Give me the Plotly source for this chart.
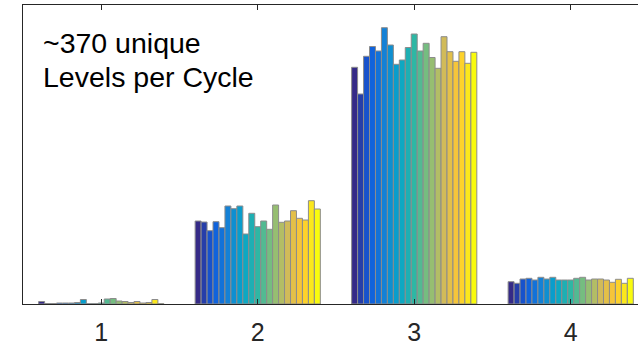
import plotly.graph_objects as go

# Categories (cycle number) and the 21 per-level series heights for each category
categories = [1, 2, 3, 4]
tick_labels = ["1", "2", "3", "4"]

cycle_1 = [2.5, 0.5, 0.5, 1.0, 1.0, 1.0, 1.5, 4.5, 0.3, 0.3, 1.0, 5.0, 5.5, 3.0, 2.5, 1.5, 2.5, 1.0, 1.5, 4.5, 0.3]
cycle_2 = [83, 82, 73.3, 82.3, 76.3, 98, 95.3, 98, 70, 90.7, 77.3, 83, 74.7, 99, 81.7, 83, 93.3, 85.7, 84, 103.3, 95]
cycle_3 = [236.7, 210, 247.7, 257.5, 253, 276.3, 259, 239.7, 244, 256.5, 270, 253, 260.7, 246.5, 235.7, 267.3, 252.3, 242.7, 252.3, 240.7, 251.7]
cycle_4 = [22.3, 20.7, 25, 25.7, 24, 26.7, 25, 26.7, 24, 24, 24, 25.7, 26.7, 24, 25, 25, 24, 21.7, 24.7, 20.7, 25.7]

annotation_lines = ["~370 unique", "Levels per Cycle"]

# parula-like colormap anchors
parula = ['#352a87', '#0f5cdd', '#1481d6', '#06a4ca', '#2eb7a4',
          '#87bf77', '#d1bb59', '#fec832', '#f9fb0e']


def hex2rgb(h):
    h = h.lstrip('#')
    return [int(h[i:i + 2], 16) for i in (0, 2, 4)]


def cmap(t):
    n = len(parula) - 1
    p = t * n
    i = min(int(p), n - 1)
    f = p - i
    a, b = hex2rgb(parula[i]), hex2rgb(parula[i + 1])
    c = [round(a[j] + (b[j] - a[j]) * f) for j in range(3)]
    return f"rgb({c[0]},{c[1]},{c[2]})"


n_series = len(cycle_1)
fig = go.Figure()
for k in range(n_series):
    fig.add_trace(go.Bar(
        x=categories,
        y=[cycle_1[k], cycle_2[k], cycle_3[k], cycle_4[k]],
        marker=dict(color=cmap(k / (n_series - 1)),
                    line=dict(color="#8c8c8c", width=1)),
        showlegend=False,
    ))

axis_color = "#262626"
fig.update_layout(
    width=638, height=346,
    margin=dict(l=23, r=0, t=5, b=42, autoexpand=False),
    paper_bgcolor="white", plot_bgcolor="white",
    barmode="group", bargap=0.2, bargroupgap=0,
    font=dict(family="Liberation Sans", color=axis_color),
    xaxis=dict(
        range=[0.5, 4.43], tickmode="array", tickvals=categories, ticktext=tick_labels,
        showline=True, linecolor=axis_color, linewidth=1, mirror="ticks",
        ticks="inside", ticklen=5, tickcolor=axis_color, showgrid=False, zeroline=False,
        tickfont=dict(size=25, color=axis_color, family="Liberation Sans"),
        ticklabelstandoff=6, automargin=False,
    ),
    yaxis=dict(
        range=[0, 299], showline=True, linecolor=axis_color, linewidth=1,
        showticklabels=False, ticks="", showgrid=False, zeroline=False, automargin=False,
    ),
)

fig.add_annotation(text=annotation_lines[0], xref="paper", yref="paper",
                   x=(41 - 23) / 615, y=1 - (25 - 5) / 299, xanchor="left", yanchor="top",
                   showarrow=False, font=dict(size=28.5, color="black", family="Liberation Sans"))
fig.add_annotation(text=annotation_lines[1], xref="paper", yref="paper",
                   x=(41 - 23) / 615, y=1 - (59 - 5) / 299, xanchor="left", yanchor="top",
                   showarrow=False, font=dict(size=28.5, color="black", family="Liberation Sans"))

fig.write_html("out.html", config={"displayModeBar": False},
               post_script="document.body.style.margin='0';")
